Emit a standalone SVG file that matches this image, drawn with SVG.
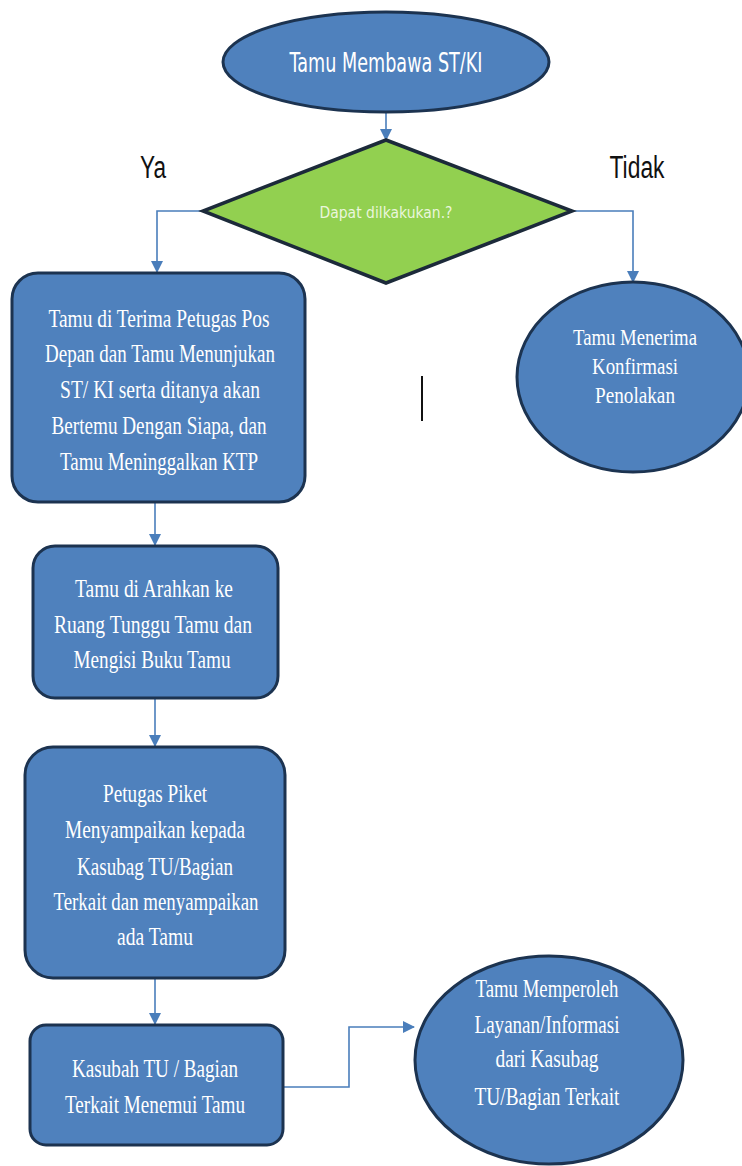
<svg xmlns="http://www.w3.org/2000/svg" width="742" height="1166" viewBox="0 0 742 1166">
<style>
.node{fill:#4f81bd;stroke:#1c3350;stroke-width:3}
.dec{fill:#92d050;stroke:#1c2a3a;stroke-width:3.5}
.t{font-family:"Liberation Serif",serif;font-size:26px;fill:#ffffff;text-anchor:middle}
.tc{font-family:"Liberation Serif",serif;font-size:24px;fill:#ffffff;text-anchor:middle}
.s{font-family:"DejaVu Sans","Liberation Sans",sans-serif;fill:#ffffff;text-anchor:middle}
.lbl{font-family:"Liberation Sans",sans-serif;font-size:31px;fill:#111111;text-anchor:middle}
.c{fill:none;stroke:#4a7ebb;stroke-width:1.6}
</style>
<defs>
<marker id="ah" markerWidth="12" markerHeight="12" refX="11" refY="6" orient="auto" markerUnits="userSpaceOnUse"><path d="M0,0 L12,6 L0,12 z" fill="#4a7ebb"/></marker>
</defs>
<rect width="742" height="1166" fill="#ffffff"/>
<g id="connectors">
<path class="c" d="M386,113 L386,140" marker-end="url(#ah)"/>
<path class="c" d="M203,211 L157,211 L157,272" marker-end="url(#ah)"/>
<path class="c" d="M572,211 L633,211 L633,282" marker-end="url(#ah)"/>
<path class="c" d="M155,503 L155,545" marker-end="url(#ah)"/>
<path class="c" d="M155,699 L155,746" marker-end="url(#ah)"/>
<path class="c" d="M155,979 L155,1024" marker-end="url(#ah)"/>
<path class="c" d="M284,1087 L349,1087 L349,1027 L414,1027" marker-end="url(#ah)"/>
</g>
<g id="start">
<ellipse class="node" cx="386" cy="62" rx="163" ry="50"/>
<text class="s" x="386" y="72" font-size="27" textLength="193" lengthAdjust="spacingAndGlyphs">Tamu Membawa ST/KI</text>
</g>
<g id="decision">
<polygon class="dec" points="386,140 572,211 386,283 203,211"/>
<text class="s" x="386" y="218" font-size="16" style="fill:#eaf6dc" textLength="133" lengthAdjust="spacingAndGlyphs">Dapat dilkakukan.?</text>
</g>
<g id="label-ya"><text class="lbl" x="153" y="178" textLength="26" lengthAdjust="spacingAndGlyphs">Ya</text></g>
<g id="label-tidak"><text class="lbl" x="637" y="178" textLength="55" lengthAdjust="spacingAndGlyphs">Tidak</text></g>
<g id="box1">
<rect class="node" x="12" y="273" width="293" height="229" rx="26"/>
<text class="t" x="159" y="327" textLength="221" lengthAdjust="spacingAndGlyphs">Tamu di Terima Petugas Pos</text>
<text class="t" x="160" y="362" textLength="230" lengthAdjust="spacingAndGlyphs">Depan dan Tamu Menunjukan</text>
<text class="t" x="160" y="398" textLength="200" lengthAdjust="spacingAndGlyphs">ST/ KI serta ditanya akan</text>
<text class="t" x="159" y="434" textLength="215" lengthAdjust="spacingAndGlyphs">Bertemu Dengan Siapa, dan</text>
<text class="t" x="159" y="470" textLength="198" lengthAdjust="spacingAndGlyphs">Tamu Meninggalkan KTP</text>
</g>
<g id="reject">
<ellipse class="node" cx="633" cy="377" rx="116" ry="95"/>
<text class="tc" x="635" y="345" textLength="124" lengthAdjust="spacingAndGlyphs">Tamu Menerima</text>
<text class="tc" x="635" y="374" textLength="86" lengthAdjust="spacingAndGlyphs">Konfirmasi</text>
<text class="tc" x="635" y="403" textLength="80" lengthAdjust="spacingAndGlyphs">Penolakan</text>
</g>
<g id="mark"><line x1="422" y1="376" x2="422" y2="421" stroke="#111111" stroke-width="2"/></g>
<g id="box2">
<rect class="node" x="33" y="546" width="245" height="152" rx="22"/>
<text class="t" x="154" y="597" textLength="158" lengthAdjust="spacingAndGlyphs">Tamu di Arahkan ke</text>
<text class="t" x="153" y="633" textLength="198" lengthAdjust="spacingAndGlyphs">Ruang Tunggu Tamu  dan</text>
<text class="t" x="152" y="668" textLength="157" lengthAdjust="spacingAndGlyphs">Mengisi Buku Tamu</text>
</g>
<g id="box3">
<rect class="node" x="25" y="747" width="260" height="231" rx="28"/>
<text class="t" x="155" y="802" textLength="104" lengthAdjust="spacingAndGlyphs">Petugas Piket</text>
<text class="t" x="155" y="838" textLength="180" lengthAdjust="spacingAndGlyphs">Menyampaikan kepada</text>
<text class="t" x="155" y="875" textLength="156" lengthAdjust="spacingAndGlyphs">Kasubag TU/Bagian</text>
<text class="t" x="156" y="910" textLength="205" lengthAdjust="spacingAndGlyphs">Terkait dan menyampaikan</text>
<text class="t" x="155" y="945" textLength="76" lengthAdjust="spacingAndGlyphs">ada Tamu</text>
</g>
<g id="box4">
<rect class="node" x="30" y="1025" width="253" height="120" rx="16"/>
<text class="t" x="155" y="1077" textLength="166" lengthAdjust="spacingAndGlyphs">Kasubah TU / Bagian</text>
<text class="t" x="155" y="1113" textLength="180" lengthAdjust="spacingAndGlyphs">Terkait Menemui Tamu</text>
</g>
<g id="end">
<ellipse class="node" cx="549" cy="1060" rx="134" ry="104"/>
<text class="t" x="547" y="997" textLength="143" lengthAdjust="spacingAndGlyphs">Tamu Memperoleh</text>
<text class="t" x="547" y="1033" textLength="145" lengthAdjust="spacingAndGlyphs">Layanan/Informasi</text>
<text class="t" x="547" y="1067" textLength="103" lengthAdjust="spacingAndGlyphs">dari Kasubag</text>
<text class="t" x="547" y="1105" textLength="145" lengthAdjust="spacingAndGlyphs">TU/Bagian Terkait</text>
</g>
</svg>
